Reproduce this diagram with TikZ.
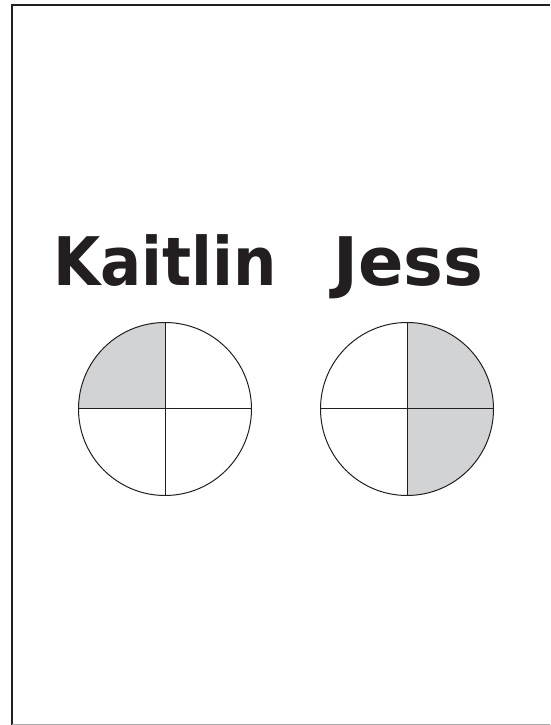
\documentclass[tikz,border=0pt]{standalone}
\usepackage{fontspec}
\setmainfont{DejaVu Sans}
\definecolor{inkdark}{HTML}{231F20}
\definecolor{slicegray}{HTML}{D1D3D4}
\definecolor{rulegray}{HTML}{A7A9AC}
\tikzset{
  pie/.style={circle, draw=inkdark, line width=1pt, minimum size=173pt, inner sep=0pt},
  slice/.style={fill=slicegray},
  cut/.style={draw=inkdark, line width=1pt},
  nametag/.style={font=\fontsize{67}{80}\selectfont\bfseries, text=inkdark, anchor=base, inner sep=0pt},
}
\begin{document}
\begin{tikzpicture}[x=1pt, y=1pt]
  \useasboundingbox (0,0) rectangle (550,725);

  % --- cornice
  \draw[line width=2.5pt, inkdark] (550,720) -- (12,720) -- (12,0);
  \draw[line width=0.8pt, rulegray] (12,0.6) -- (550,0.6);

  % --- nomi
  \node[nametag, xscale=0.91, transform shape] (kname) at (165,439.5) {Kaitlin};
  \node[nametag] (jname) at (408.3,439.5) {Jess};

  % --- cerchio di Kaitlin (un quarto)
  \coordinate (kc) at (165,316);
  \fill[slice] (kc) -- ++(0,86.5) arc[start angle=90, end angle=180, radius=86.5] -- cycle;
  \node[pie] (kpie) at (kc) {};
  \draw[cut] (kpie.north) -- (kpie.south);
  \draw[cut] (kpie.west) -- (kpie.east);

  % --- cerchio di Jess (due quarti)
  \coordinate (jc) at (407,316);
  \fill[slice] (jc) -- ++(0,86.5) arc[start angle=90, end angle=-90, radius=86.5] -- cycle;
  \node[pie] (jpie) at (jc) {};
  \draw[cut] (jpie.north) -- (jpie.south);
  \draw[cut] (jpie.west) -- (jpie.east);
\end{tikzpicture}
\end{document}
